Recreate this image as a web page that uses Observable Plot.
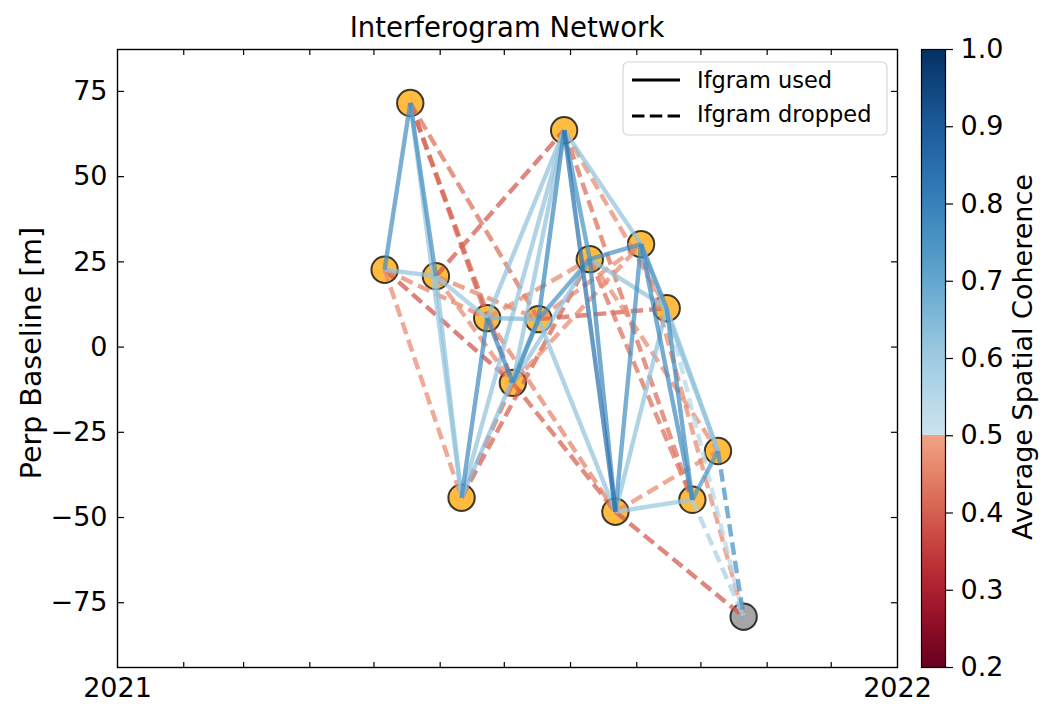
<!DOCTYPE html>
<html>
<head>
<meta charset="utf-8">
<script src="https://cdn.jsdelivr.net/npm/d3@7"></script>
<script src="https://cdn.jsdelivr.net/npm/@observablehq/plot@0.6"></script>
<style>
  body { margin: 0; background: #fff; }
  #wrap { position: relative; width: 1045px; height: 708px; font-family: "DejaVu Sans", sans-serif; }
  #wrap > svg, #wrap > div { position: absolute; }
  #main { left: 0; top: 0; }
  #cbar { left: 900px; top: 0; }
  #overlay { left: 0; top: 0; pointer-events: none; }
</style>
</head>
<body>
<div id="wrap">
  <div id="main"></div>
  <div id="cbar"></div>
</div>
<script>
// ---------------- data ----------------
const acqDates = ["2021-05-06", "2021-05-18", "2021-05-30", "2021-06-11", "2021-06-23",
                  "2021-07-05", "2021-07-17", "2021-07-29", "2021-08-10", "2021-08-22",
                  "2021-09-03", "2021-09-15", "2021-09-27", "2021-10-09", "2021-10-21"];
const bperp = [22.7, 71.6, 20.8, -44.2, 8.5, -10.5, 8.2, 63.6, 25.8, -48.3, 30.2, 11.4, -44.8, -30.5, -79.1];
const excludedDates = ["2021-10-21"];

// interferogram pairs (indices into acqDates)
const ifgRef = [0, 0, 0, 0, 0, 1, 1, 1, 1, 1, 2, 2, 2, 2, 2, 3, 3, 3, 3, 3,
                4, 4, 4, 4, 4, 5, 5, 5, 5, 5, 6, 6, 6, 6, 6, 7, 7, 7, 7, 7,
                8, 8, 8, 8, 8, 9, 9, 9, 9, 9, 10, 10, 10, 10, 11, 11, 11, 12, 12, 13];
const ifgSec = [1, 2, 3, 4, 5, 2, 3, 4, 5, 6, 3, 4, 5, 6, 7, 4, 5, 6, 7, 8,
                5, 6, 7, 8, 9, 6, 7, 8, 9, 10, 7, 8, 9, 10, 11, 8, 9, 10, 11, 12,
                9, 10, 11, 12, 13, 10, 11, 12, 13, 14, 11, 12, 13, 14, 12, 13, 14, 13, 14, 14];
const ifgCoh = [0.76, 0.62, 0.46, 0.45, 0.38, 0.76, 0.61, 0.40, 0.41, 0.42, 0.62, 0.61, 0.46, 0.45, 0.39, 0.77, 0.41, 0.63, 0.62, 0.40,
                0.78, 0.65, 0.62, 0.46, 0.45, 0.78, 0.62, 0.62, 0.40, 0.46, 0.78, 0.75, 0.62, 0.46, 0.40, 0.75, 0.84, 0.62, 0.46, 0.42,
                0.78, 0.75, 0.62, 0.42, 0.46, 0.76, 0.62, 0.61, 0.46, 0.39, 0.75, 0.77, 0.62, 0.46, 0.77, 0.62, 0.55, 0.74, 0.58, 0.76];
const ifgUsed = [1, 1, 0, 0, 0, 1, 1, 0, 0, 0, 1, 1, 0, 0, 0, 1, 0, 1, 1, 0,
                 1, 1, 1, 0, 0, 1, 1, 1, 0, 0, 1, 1, 1, 0, 0, 1, 1, 1, 0, 0,
                 1, 1, 1, 0, 0, 1, 1, 1, 0, 0, 1, 1, 1, 0, 1, 1, 0, 1, 0, 0];

const yTicks = [-75, -50, -25, 0, 25, 50, 75];
const yearTicks = ["2021-01-01", "2022-01-01"];
const monthTicks = ["2021-02-01", "2021-03-01", "2021-04-01", "2021-05-01", "2021-06-01", "2021-07-01",
                    "2021-08-01", "2021-09-01", "2021-10-01", "2021-11-01", "2021-12-01"];
const cbTicks = [0.2, 0.3, 0.4, 0.5, 0.6, 0.7, 0.8, 0.9, 1.0];

// ---------------- build ----------------
const parse = d3.utcParse("%Y-%m-%d");
const nodes = acqDates.map((d, i) => ({date: parse(d), bperp: bperp[i], excluded: excludedDates.includes(d)}));
const links = ifgRef.map((r, k) => ({
  x1: nodes[r].date, y1: nodes[r].bperp,
  x2: nodes[ifgSec[k]].date, y2: nodes[ifgSec[k]].bperp,
  coh: ifgCoh[k], used: !!ifgUsed[k]
}));
const usedLinks = links.filter(d => d.used).sort((a, b) => a.coh - b.coh);
const droppedLinks = links.filter(d => !d.used).sort((a, b) => a.coh - b.coh);

// truncated RdBu: red part below 0.5, blue part above
const cmap = v => v < 0.5 ? d3.interpolateRdBu(0.3 * (v - 0.2) / 0.3)
                          : d3.interpolateRdBu(0.6 + 0.4 * (v - 0.5) / 0.5);
const colorOpts = {type: "linear", domain: [0.2, 1.0], interpolate: t => cmap(0.2 + 0.8 * t)};

const baseStyle = {fontFamily: "DejaVu Sans, sans-serif", fontSize: "27px", color: "black", background: "transparent", overflow: "visible"};

const main = Plot.plot({
  width: 915, height: 708,
  marginLeft: 117, marginRight: 18, marginTop: 49, marginBottom: 41,
  x: {type: "utc", domain: [parse("2021-01-01"), parse("2022-01-01")], label: null},
  y: {domain: [-94, 87.3], label: null},
  color: colorOpts,
  style: baseStyle,
  marks: [
    Plot.axisX({anchor: "bottom", ticks: monthTicks.map(parse), tickSize: -5, tickFormat: () => null, label: null, strokeWidth: 1.2}),
    Plot.axisX({anchor: "top", ticks: monthTicks.map(parse), tickSize: -5, tickFormat: () => null, label: null, strokeWidth: 1.2}),
    Plot.axisX({anchor: "bottom", ticks: yearTicks.map(parse), tickSize: 0, tickPadding: 10, tickFormat: d3.utcFormat("%Y"), label: null}),
    Plot.axisY({anchor: "left", ticks: yTicks, tickSize: -7, tickFormat: () => null, label: null, strokeWidth: 1.2}),
    Plot.axisY({anchor: "right", ticks: yTicks, tickSize: -7, tickFormat: () => null, label: null, strokeWidth: 1.2}),
    Plot.axisY({anchor: "left", ticks: yTicks, tickSize: 0, tickPadding: 10, label: null}),
    Plot.dot(nodes.filter(d => !d.excluded), {x: "date", y: "bperp", r: 13.2, fill: "orange", fillOpacity: 0.75, stroke: "black", strokeOpacity: 0.75, strokeWidth: 2}),
    Plot.dot(nodes.filter(d => d.excluded), {x: "date", y: "bperp", r: 13.2, fill: "gray", fillOpacity: 0.7, stroke: "black", strokeOpacity: 0.75, strokeWidth: 2}),
    Plot.link(droppedLinks, {x1: "x1", y1: "y1", x2: "x2", y2: "y2", stroke: "coh", strokeWidth: 4.4, strokeOpacity: 0.72, strokeDasharray: "12.5,6"}),
    Plot.link(usedLinks, {x1: "x1", y1: "y1", x2: "x2", y2: "y2", stroke: "coh", strokeWidth: 4.4, strokeOpacity: 0.72}),
    Plot.frame({stroke: "black", strokeWidth: 1.4})
  ]
});
document.getElementById("main").appendChild(main);

// colorbar
const cbStep = 0.0025;
const cbStops = d3.range(0.2, 1.0 - 1e-9, cbStep);
const cbar = Plot.plot({
  width: 145, height: 708,
  marginLeft: 21, marginRight: 100, marginTop: 49, marginBottom: 41,
  x: {domain: [0, 1], axis: null},
  y: {domain: [0.2, 1.0], axis: null},
  color: colorOpts,
  style: baseStyle,
  marks: [
    Plot.rect(cbStops, {x1: d => 0, x2: d => 1, y1: d => d, y2: d => Math.min(1.0, d + cbStep * 1.3), fill: d => d + cbStep / 2, shapeRendering: "crispEdges"}),
    Plot.frame({stroke: "black", strokeWidth: 1.2}),
    Plot.axisY({anchor: "right", ticks: cbTicks, tickSize: 7, tickPadding: 8, tickFormat: d3.format(".1f"), label: null, strokeWidth: 1.2})
  ]
});
document.getElementById("cbar").appendChild(cbar);

// overlay: title, axis labels, legend
const ns = "http://www.w3.org/2000/svg";
const ov = document.createElementNS(ns, "svg");
ov.setAttribute("id", "overlay");
ov.setAttribute("width", 1045);
ov.setAttribute("height", 708);
ov.style.fontFamily = "DejaVu Sans, sans-serif";
ov.innerHTML = `
  <text x="507" y="37" text-anchor="middle" font-size="27.5" fill="black">Interferogram Network</text>
  <text transform="translate(41,353) rotate(-90)" text-anchor="middle" font-size="28.5" fill="black">Perp Baseline [m]</text>
  <text transform="translate(1032,357) rotate(-90)" text-anchor="middle" font-size="27" fill="black">Average Spatial Coherence</text>
  <rect x="623" y="62" width="264" height="73" rx="5" ry="5" fill="white" fill-opacity="0.8" stroke="#d6d6d6" stroke-width="1.2"></rect>
  <line x1="632" x2="680" y1="80" y2="80" stroke="black" stroke-width="3"></line>
  <line x1="632" x2="680" y1="116" y2="116" stroke="black" stroke-width="3" stroke-dasharray="12.5,5.3"></line>
  <text x="697" y="88" font-size="22.5" fill="black">Ifgram used</text>
  <text x="697" y="121.5" font-size="22.5" fill="black">Ifgram dropped</text>
`;
document.getElementById("wrap").appendChild(ov);
</script>
</body>
</html>
